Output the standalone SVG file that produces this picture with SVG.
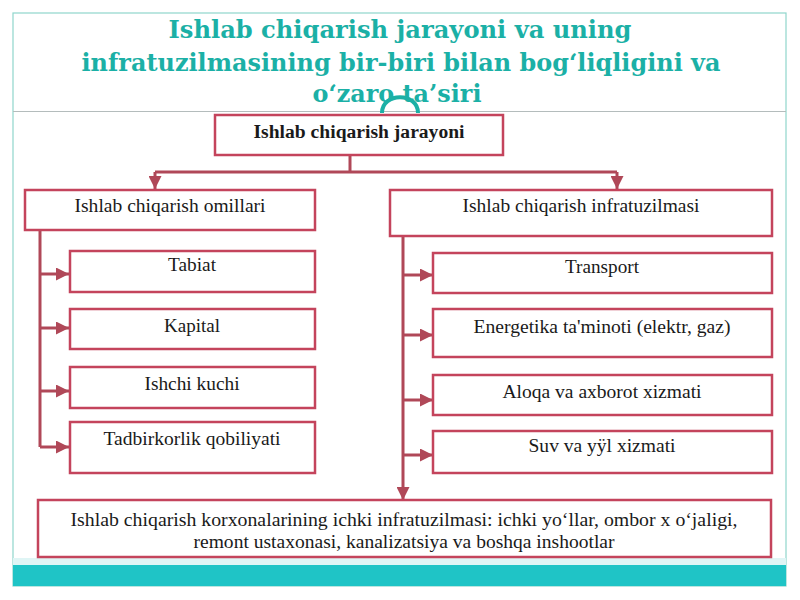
<svg xmlns="http://www.w3.org/2000/svg" width="800" height="600" viewBox="0 0 800 600">
<defs>
<marker id="ah" viewBox="0 0 10 10" refX="10" refY="5" markerWidth="13" markerHeight="13" markerUnits="userSpaceOnUse" orient="auto">
<path d="M0,0 L10,5 L0,10 Z" fill="#b04858"/>
</marker>
</defs>
<style>
.box{fill:#ffffff;stroke:#c4445c;stroke-width:2.5}
.t{font-size:18px;fill:#1a1a1a;text-anchor:middle}
.title{font-weight:bold;font-size:24px;fill:#1bb0a6;text-anchor:middle}
.c{fill:none;stroke:#b04858;stroke-width:3}
</style>
<rect x="0" y="0" width="800" height="600" fill="#ffffff"/>
<rect x="13" y="13" width="773" height="573" fill="#ffffff" stroke="#8fd6cc" stroke-width="1.2"/>
<line x1="13" y1="111.5" x2="786" y2="111.5" stroke="#b4bcbc" stroke-width="1.2"/>
<rect x="13" y="558" width="773" height="8" fill="#dff5f5"/>
<rect x="13" y="565" width="773" height="21" fill="#1fc4c6"/>

<g id="title" font-family="'DejaVu Serif', 'Liberation Serif', serif">
<text class="title" x="400" y="38" textLength="463" lengthAdjust="spacingAndGlyphs">Ishlab chiqarish jarayoni va uning</text>
<text class="title" x="401" y="71" textLength="639" lengthAdjust="spacingAndGlyphs">infratuzilmasining bir-biri bilan bog‘liqligini va</text>
<text class="title" x="397" y="102" textLength="169" lengthAdjust="spacingAndGlyphs">o‘zaro ta’siri</text>
<path d="M382 113 C382 92, 418 92, 418 113" fill="none" stroke="#1bb0a6" stroke-width="4"/>
</g>

<g id="connectors">
<path class="c" d="M350 155 V172"/>
<path class="c" d="M155 172 H617"/>
<path class="c" d="M155 172 V189" marker-end="url(#ah)"/>
<path class="c" d="M617 172 V189" marker-end="url(#ah)"/>
<path class="c" d="M40 230 V447"/>
<path class="c" d="M40 274 H69" marker-end="url(#ah)"/>
<path class="c" d="M40 328 H69" marker-end="url(#ah)"/>
<path class="c" d="M40 391 H69" marker-end="url(#ah)"/>
<path class="c" d="M40 447 H69" marker-end="url(#ah)"/>
<path class="c" d="M403 236 V500" marker-end="url(#ah)"/>
<path class="c" d="M403 275 H433" marker-end="url(#ah)"/>
<path class="c" d="M403 335 H433" marker-end="url(#ah)"/>
<path class="c" d="M403 400 H433" marker-end="url(#ah)"/>
<path class="c" d="M403 455 H433" marker-end="url(#ah)"/>
</g>

<g font-family="'Liberation Serif', 'Times New Roman', 'DejaVu Serif', serif">
<g id="n-jarayoni">
<rect class="box" x="215" y="115" width="288" height="40"/>
<text class="t" x="359" y="138" font-weight="bold" textLength="211" lengthAdjust="spacingAndGlyphs">Ishlab chiqarish jarayoni</text>
</g>
<g id="n-omillari">
<rect class="box" x="25" y="190" width="290" height="40"/>
<text class="t" x="170" y="212" textLength="191" lengthAdjust="spacingAndGlyphs">Ishlab chiqarish omillari</text>
</g>
<g id="n-infratuzilmasi">
<rect class="box" x="390" y="190" width="382" height="46"/>
<text class="t" x="581" y="212" textLength="237" lengthAdjust="spacingAndGlyphs">Ishlab chiqarish infratuzilmasi</text>
</g>
<g id="n-tabiat">
<rect class="box" x="70" y="251" width="245" height="41"/>
<text class="t" x="192" y="271" textLength="48" lengthAdjust="spacingAndGlyphs">Tabiat</text>
</g>
<g id="n-kapital">
<rect class="box" x="70" y="309" width="245" height="40"/>
<text class="t" x="192" y="332" textLength="56" lengthAdjust="spacingAndGlyphs">Kapital</text>
</g>
<g id="n-ishchi">
<rect class="box" x="70" y="367" width="245" height="41"/>
<text class="t" x="192" y="390" textLength="95" lengthAdjust="spacingAndGlyphs">Ishchi kuchi</text>
</g>
<g id="n-tadbirkorlik">
<rect class="box" x="70" y="422" width="245" height="51"/>
<text class="t" x="192" y="445" textLength="177" lengthAdjust="spacingAndGlyphs">Tadbirkorlik qobiliyati</text>
</g>
<g id="n-transport">
<rect class="box" x="433" y="253" width="339" height="40"/>
<text class="t" x="602" y="273" textLength="74" lengthAdjust="spacingAndGlyphs">Transport</text>
</g>
<g id="n-energetika">
<rect class="box" x="433" y="309" width="339" height="48"/>
<text class="t" x="602" y="333" textLength="257" lengthAdjust="spacingAndGlyphs">Energetika ta'minoti (elektr, gaz)</text>
</g>
<g id="n-aloqa">
<rect class="box" x="433" y="375" width="339" height="40"/>
<text class="t" x="602" y="398" textLength="199" lengthAdjust="spacingAndGlyphs">Aloqa va axborot xizmati</text>
</g>
<g id="n-suv">
<rect class="box" x="433" y="431" width="339" height="42"/>
<text class="t" x="602" y="452" textLength="147" lengthAdjust="spacingAndGlyphs">Suv va yÿl xizmati</text>
</g>
<g id="n-ichki">
<rect class="box" x="38" y="500" width="733" height="57"/>
<text class="t" x="404" y="526" textLength="667" lengthAdjust="spacingAndGlyphs">Ishlab chiqarish korxonalarining ichki infratuzilmasi: ichki yo‘llar, ombor x o‘jaligi,</text>
<text class="t" x="404" y="548" textLength="421" lengthAdjust="spacingAndGlyphs">remont ustaxonasi, kanalizatsiya va boshqa inshootlar</text>
</g>
</g>
</svg>
